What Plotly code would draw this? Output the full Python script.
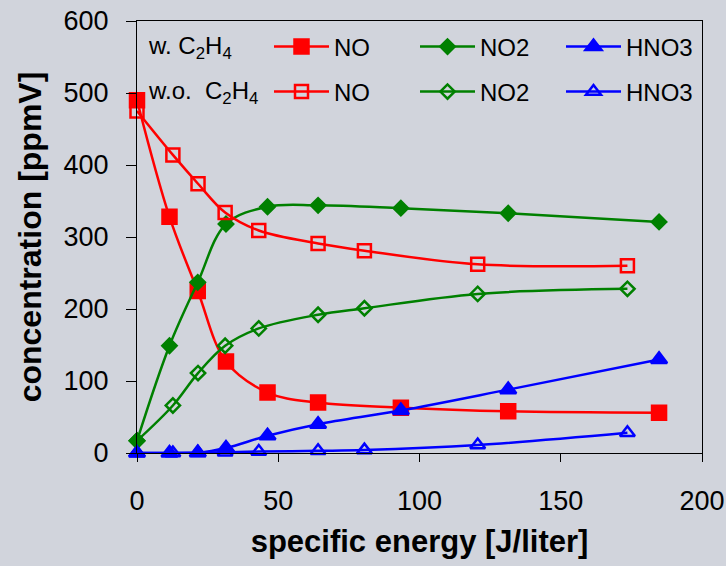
import plotly.graph_objects as go

# Specific energy (J/liter) for the runs with and without ethylene
x_with = [0, 11.5, 21.5, 31.5, 46.2, 64.1, 93.4, 131.4, 184.8]
x_without = [0, 12.7, 21.6, 31.2, 43.1, 64.1, 80.5, 120.6, 173.6]

# Concentrations in ppmV, with C2H4
no_with = [490, 328, 225, 127, 84, 70, 63, 58, 56]
no2_with = [17, 149, 237, 318, 342, 344, 340, 333, 321]
hno3_with = [0, 0, 0.5, 7, 24, 40, 59, 88, 130]

# Concentrations in ppmV, without C2H4
no_without = [475, 414, 374, 334, 309, 291, 281, 262, 260]
no2_without = [17, 66, 111, 149, 173, 192, 201, 221, 228]
hno3_without = [0, 0, 0.5, 1, 2, 3, 4, 11, 28]

x_ticks = [0, 50, 100, 150, 200]
y_ticks = [0, 100, 200, 300, 400, 500, 600]

RED, GREEN, BLUE = "#FF0000", "#008000", "#0000FF"
BG = "#D1D4DC"
FONT = "Arial, Liberation Sans, sans-serif"

series = [
    ("NO", x_with, no_with, RED, "square", 14, "legend"),
    ("NO2", x_with, no2_with, GREEN, "diamond", 11, "legend"),
    ("HNO3", x_with, hno3_with, BLUE, "triangle-up", 14, "legend"),
    ("NO", x_without, no_without, RED, "square-open", 13, "legend2"),
    ("NO2", x_without, no2_without, GREEN, "diamond-open", 11, "legend2"),
    ("HNO3", x_without, hno3_without, BLUE, "triangle-up-open", 13, "legend2"),
]

fig = go.Figure()
for name, xs, ys, color, symbol, size, leg in series:
    fig.add_trace(go.Scatter(
        x=xs, y=ys, name=name, mode="lines+markers",
        line=dict(color=color, width=2.5, shape="spline", smoothing=1),
        marker=dict(symbol=symbol, size=size, color=color,
                    line=dict(color=color, width=2.5)),
        legend=leg, cliponaxis=False,
    ))

legend_common = dict(
    orientation="h", entrywidth=76, entrywidthmode="pixels", itemwidth=55,
    font=dict(family=FONT, size=24, color="black"),
    bgcolor="rgba(0,0,0,0)", xanchor="left", yanchor="middle",
    xref="container", yref="container",
)

fig.update_layout(
    width=726, height=566,
    margin=dict(l=137, r=24, t=21, b=113, autoexpand=False),
    paper_bgcolor=BG, plot_bgcolor=BG,
    font=dict(family=FONT, size=27, color="black"),
    legend=dict(x=269 / 726, y=1 - 47 / 566, **legend_common),
    legend2=dict(x=269 / 726, y=1 - 92 / 566, **legend_common),
    xaxis=dict(
        range=[0, 200], tickvals=x_ticks, showgrid=False, zeroline=False,
        showline=True, linecolor="black", linewidth=1, mirror=True,
        ticks="outside", ticklen=8, tickcolor="black",
        ticklabelstandoff=16,
        title=dict(text="<b>specific energy [J/liter]</b>",
                   font=dict(size=31), standoff=14),
    ),
    yaxis=dict(
        range=[0, 600], tickvals=y_ticks, showgrid=False, zeroline=False,
        showline=True, linecolor="black", linewidth=1, mirror=True,
        ticks="outside", ticklen=10, tickcolor="black",
        ticklabelstandoff=12,
        title=dict(text="<b>concentration [ppmV]</b>",
                   font=dict(size=32), standoff=12),
    ),
    annotations=[
        dict(text="w. C<sub>2</sub>H<sub>4</sub>", x=146, y=47,
             xref="paper", yref="paper", xanchor="left", yanchor="middle",
             showarrow=False, font=dict(size=24)),
        dict(text="w.o.\u00a0\u00a0C<sub>2</sub>H<sub>4</sub>", x=146, y=92,
             xref="paper", yref="paper", xanchor="left", yanchor="middle",
             showarrow=False, font=dict(size=24)),
    ],
)

# Row labels are placed in pixel terms, converted to paper fractions here
plot_w, plot_h = 726 - 137 - 24, 566 - 21 - 113
for ann in fig.layout.annotations:
    ann.x = (ann.x - 137) / plot_w
    ann.y = 1 - (ann.y - 21) / plot_h

fig.write_html("out.html")
